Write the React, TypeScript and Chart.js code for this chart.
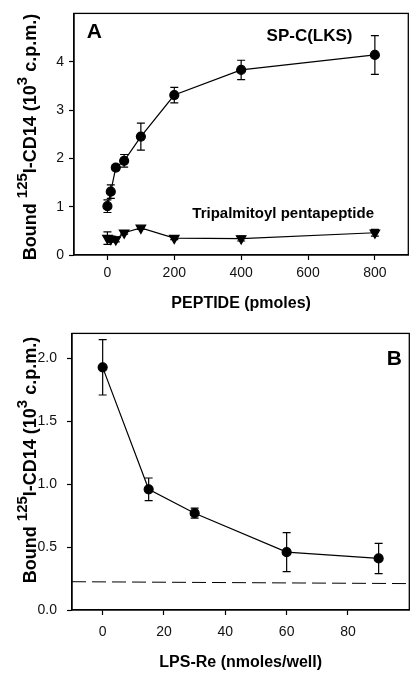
import React, { useEffect, useRef } from "react";
import { Chart, registerables } from "chart.js";

Chart.register(...registerables);

// ---------- Data ----------
const peptidePmoles = [0, 10, 25, 50, 100, 200, 400, 800];
const spcBound = [1.01, 1.31, 1.81, 1.95, 2.45, 3.31, 3.83, 4.14];
const spcErr = [0.13, 0.14, 0.05, 0.13, 0.28, 0.16, 0.2, 0.4];
const tripBound = [0.35, 0.33, 0.32, 0.46, 0.56, 0.35, 0.34, 0.46];
const tripErr = [0.13, 0.06, 0.05, 0.03, 0.03, 0.03, 0.05, 0.07];

const lpsDose = [0, 15, 30, 60, 90];
const lpsBound = [1.93, 0.96, 0.77, 0.46, 0.41];
const lpsErr = [0.22, 0.09, 0.04, 0.155, 0.12];
const baselineX = [-10, 100];
const baselineY = [0.225, 0.21];

const xTicksA = [0, 200, 400, 600, 800];
const yTicksA = [0, 1, 2, 3, 4];
const xTicksB = [0, 20, 40, 60, 80];
const yTicksB = [0, 0.5, 1, 1.5, 2];

const xTitleA = "PEPTIDE (pmoles)";
const xTitleB = "LPS-Re (nmoles/well)";
const yTitleParts = [
  { t: "Bound ", sup: false },
  { t: "125", sup: true },
  { t: "I-CD14 (10", sup: false },
  { t: "3", sup: true },
  { t: " c.p.m.)", sup: false },
];
const seriesLabelA1 = "SP-C(LKS)";
const seriesLabelA2 = "Tripalmitoyl pentapeptide";
const panelLabelA = "A";
const panelLabelB = "B";

const FONT = "'Liberation Sans', Arial, sans-serif";

// ---------- Plugins ----------
const frameAndErrors = {
  id: "frameAndErrors",
  afterDatasetsDraw(chart: any) {
    const { ctx, chartArea, scales } = chart;
    ctx.save();
    ctx.strokeStyle = "#000";
    ctx.lineWidth = 1.3;
    ctx.strokeRect(chartArea.left, chartArea.top, chartArea.right - chartArea.left, chartArea.bottom - chartArea.top);
    chart.data.datasets.forEach((ds: any) => {
      if (!ds.errors) return;
      ds.data.forEach((p: any, i: number) => {
        const e = ds.errors[i];
        const x = scales.x.getPixelForValue(p.x);
        const y1 = scales.y.getPixelForValue(p.y + e);
        const y2 = scales.y.getPixelForValue(p.y - e);
        ctx.lineWidth = 1.2;
        ctx.beginPath();
        ctx.moveTo(x, y1);
        ctx.lineTo(x, y2);
        ctx.moveTo(x - 4, y1);
        ctx.lineTo(x + 4, y1);
        ctx.moveTo(x - 4, y2);
        ctx.lineTo(x + 4, y2);
        ctx.stroke();
      });
    });
    ctx.restore();
  },
};

const annotations = {
  id: "annotations",
  afterDraw(chart: any, _args: any, opts: any) {
    const { ctx, scales } = chart;
    ctx.save();
    ctx.fillStyle = "#000";
    (opts.texts || []).forEach((t: any) => {
      ctx.font = t.font;
      ctx.textAlign = t.align || "left";
      ctx.textBaseline = "alphabetic";
      ctx.fillText(t.text, scales.x.getPixelForValue(t.x), scales.y.getPixelForValue(t.y));
    });
    // rotated y title with superscripts
    const yt = opts.yTitle;
    if (yt) {
      const mainFont = `bold 18px ${FONT}`;
      const supFont = `bold 15px ${FONT}`;
      let total = 0;
      const widths = yTitleParts.map((p) => {
        ctx.font = p.sup ? supFont : mainFont;
        const w = ctx.measureText(p.t).width;
        total += w;
        return w;
      });
      ctx.translate(yt.x, yt.cy);
      ctx.rotate(-Math.PI / 2);
      let cx = -total / 2;
      ctx.textAlign = "left";
      yTitleParts.forEach((p, i) => {
        ctx.font = p.sup ? supFont : mainFont;
        ctx.fillText(p.t, cx, p.sup ? -9 : 0);
        cx += widths[i];
      });
    }
    ctx.restore();
  },
};

function makeScales(opt: any) {
  const tickFont = { family: FONT, size: 14 };
  return {
    x: {
      type: "linear",
      min: opt.xMin,
      max: opt.xMax,
      afterBuildTicks: (s: any) => {
        s.ticks = opt.xTicks.map((v: number) => ({ value: v }));
      },
      afterFit: (s: any) => {
        s.height = opt.xHeight;
      },
      grid: { display: true, drawOnChartArea: false, drawTicks: true, tickLength: 5, tickColor: "#000", tickWidth: 1.2 },
      border: { display: true, color: "#000", width: 1.3 },
      ticks: { color: "#111", font: tickFont, padding: opt.xPad, maxRotation: 0, autoSkip: false },
      title: {
        display: true,
        text: opt.xTitle,
        color: "#000",
        font: { family: FONT, size: 16, weight: "bold" },
        padding: { top: 0, bottom: opt.xTitlePad },
      },
    },
    y: {
      type: "linear",
      min: opt.yMin,
      max: opt.yMax,
      afterBuildTicks: (s: any) => {
        s.ticks = opt.yTicks.map((v: number) => ({ value: v }));
      },
      afterFit: (s: any) => {
        s.width = opt.yWidth;
      },
      grid: { display: true, drawOnChartArea: false, drawTicks: true, tickLength: 5, tickColor: "#000", tickWidth: 1.2 },
      border: { display: true, color: "#000", width: 1.3 },
      ticks: {
        color: "#111",
        font: tickFont,
        padding: opt.yPad,
        autoSkip: false,
        callback: opt.yFmt,
      },
      title: { display: false },
    },
  };
}

function usePanel(ref: any, config: any) {
  useEffect(() => {
    const chart = new Chart(ref.current, config);
    return () => chart.destroy();
  }, []);
}

export default function App() {
  const refA = useRef<HTMLCanvasElement>(null);
  const refB = useRef<HTMLCanvasElement>(null);

  usePanel(refA, {
    type: "scatter",
    data: {
      datasets: [
        {
          data: peptidePmoles.map((x, i) => ({ x, y: spcBound[i] })),
          errors: spcErr,
          showLine: true,
          borderColor: "#000",
          backgroundColor: "#000",
          borderWidth: 1.2,
          pointRadius: 4.5,
          pointStyle: "circle",
        },
        {
          data: peptidePmoles.map((x, i) => ({ x, y: tripBound[i] })),
          errors: tripErr,
          showLine: true,
          borderColor: "#000",
          backgroundColor: "#000",
          borderWidth: 1.2,
          pointRadius: 5.5,
          pointStyle: "triangle",
          pointRotation: 180,
        },
      ],
    },
    options: {
      animation: false,
      responsive: false,
      layout: { padding: { top: 6, right: 4, left: 0, bottom: 0 } },
      plugins: {
        legend: { display: false },
        tooltip: { enabled: false },
        annotations: {
          texts: [
            { text: panelLabelA, x: -62, y: 4.5, font: `bold 21px ${FONT}` },
            { text: seriesLabelA1, x: 476, y: 4.42, font: `bold 17px ${FONT}` },
            { text: seriesLabelA2, x: 254, y: 0.76, font: `bold 15px ${FONT}` },
          ],
          yTitle: { x: 36, cy: 137 },
        },
      },
      scales: makeScales({
        xMin: -100, xMax: 900, xTicks: xTicksA, xHeight: 60, xPad: 5, xTitle: xTitleA, xTitlePad: 2,
        yMin: 0, yMax: 5, yTicks: yTicksA, yWidth: 74, yPad: 5, yFmt: (v: number) => String(v),
      }),
    },
    plugins: [frameAndErrors, annotations],
  });

  usePanel(refB, {
    type: "scatter",
    data: {
      datasets: [
        {
          data: lpsDose.map((x, i) => ({ x, y: lpsBound[i] })),
          errors: lpsErr,
          showLine: true,
          borderColor: "#000",
          backgroundColor: "#000",
          borderWidth: 1.2,
          pointRadius: 4.5,
          pointStyle: "circle",
        },
        {
          data: baselineX.map((x, i) => ({ x, y: baselineY[i] })),
          showLine: true,
          borderColor: "#000",
          borderWidth: 1,
          borderDash: [14, 6],
          pointRadius: 0,
        },
      ],
    },
    options: {
      animation: false,
      responsive: false,
      layout: { padding: { top: 12, right: 3, left: 0, bottom: 0 } },
      plugins: {
        legend: { display: false },
        tooltip: { enabled: false },
        annotations: {
          texts: [{ text: panelLabelB, x: 97.6, y: 1.95, font: `bold 21px ${FONT}`, align: "right" }],
          yTitle: { x: 36, cy: 145 },
        },
      },
      scales: makeScales({
        xMin: -10, xMax: 100, xTicks: xTicksB, xHeight: 65, xPad: 9, xTitle: xTitleB, xTitlePad: 3,
        yMin: 0, yMax: 2.2, yTicks: yTicksB, yWidth: 72, yPad: 10, yFmt: (v: number) => v.toFixed(1),
      }),
    },
    plugins: [frameAndErrors, annotations],
  });

  return (
    <div style={{ position: "fixed", top: 0, left: 0, width: 415, height: 675, background: "#fff" }}>
      <canvas ref={refA} width={415} height={315} style={{ position: "absolute", top: 0, left: 0 }} />
      <canvas ref={refB} width={415} height={360} style={{ position: "absolute", top: 315, left: 0 }} />
    </div>
  );
}
